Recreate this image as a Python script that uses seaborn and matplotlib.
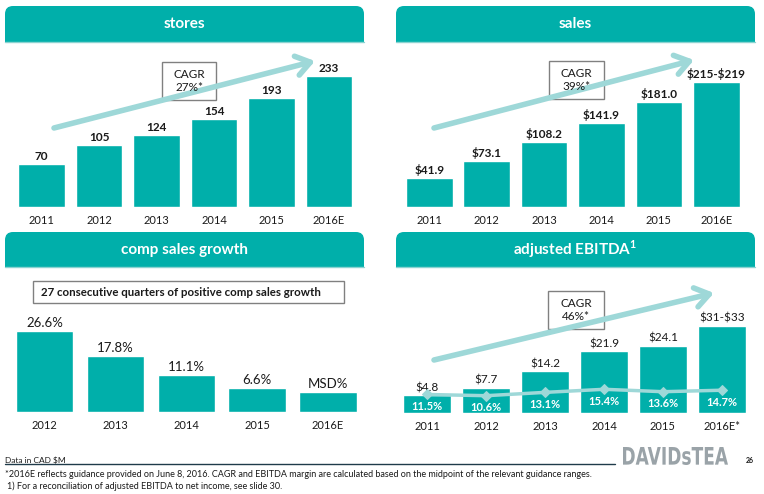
import numpy as np
import pandas as pd
import seaborn as sns
import matplotlib.pyplot as plt
from matplotlib.patches import FancyBboxPatch, Rectangle, PathPatch
from matplotlib.textpath import TextPath
from matplotlib.font_manager import FontProperties
from matplotlib.transforms import Affine2D

# Data
store_years = ['2011', '2012', '2013', '2014', '2015', '2016E']
store_counts = [70, 105, 124, 154, 193, 233]
store_labels = ['70', '105', '124', '154', '193', '233']

sales_years = ['2011', '2012', '2013', '2014', '2015', '2016E']
sales_values = [41.9, 73.1, 108.2, 141.9, 181.0, 217.0]
sales_labels = ['$41.9', '$73.1', '$108.2', '$141.9', '$181.0', '$215-$219']

comp_years = ['2012', '2013', '2014', '2015', '2016E']
comp_growth = [26.6, 17.8, 11.1, 6.6, 5.2]
comp_labels = ['26.6%', '17.8%', '11.1%', '6.6%', 'MSD%']

ebitda_years = ['2011', '2012', '2013', '2014', '2015', '2016E*']
ebitda_values = [4.8, 7.7, 14.2, 21.9, 24.1, 32.0]
ebitda_labels = ['$4.8', '$7.7', '$14.2', '$21.9', '$24.1', '$31-$33']
ebitda_margin = [11.5, 10.6, 13.1, 15.4, 13.6, 14.7]

TEAL = '#00AFAA'
LIGHT = '#9ED8D8'
DARK = '#1a1a1a'
W, H = 764, 494

sns.set_style('white')
plt.rcParams['font.family'] = ['Lato', 'DejaVu Sans']
plt.rcParams['text.parse_math'] = False

fig = plt.figure(figsize=(W / 100, H / 100), dpi=100)


def bar_panel(years, values, labels, c0, step, top, base, ylim, bold, lsize):
    n = len(years)
    x0 = c0 - 0.62 * step
    x1 = c0 + (n - 1 + 0.62) * step
    ax = fig.add_axes([x0 / W, 1 - base / H, (x1 - x0) / W, (base - top) / H])
    df = pd.DataFrame({'year': years, 'value': values})
    sns.barplot(data=df, x='year', y='value', color=TEAL, width=0.81,
                saturation=1, ax=ax)
    # value axis starts a little below zero, bars rise from the axis floor
    for p in ax.patches:
        h = p.get_height()
        p.set_y(ylim[0])
        p.set_height(h - ylim[0])
    ax.set_xlim(-0.62, n - 1 + 0.62)
    ax.set_ylim(*ylim)
    ax.set_xlabel('')
    ax.set_ylabel('')
    ax.set_yticks([])
    ax.tick_params(axis='x', length=0, pad=6, labelsize=8, labelcolor=DARK)
    sns.despine(ax=ax, left=True, bottom=True)
    ax.patch.set_alpha(0)
    for i, (v, lab) in enumerate(zip(values, labels)):
        ax.annotate(lab, xy=(i, v), xytext=(0, 2), textcoords='offset pixels',
                    ha='center', va='bottom', fontsize=lsize, color=DARK,
                    fontweight='bold' if bold else 'normal')
    return ax


bar_panel(store_years, store_counts, store_labels, 41.5, 57.5, 42, 207, (-9.6, 296),
          True, 8.5)
bar_panel(sales_years, sales_values, sales_labels, 429.3, 57.4, 42, 207, (-11, 290),
          True, 8.5)
bar_panel(comp_years, comp_growth, comp_labels, 44.7, 70.8, 267, 412, (-1.82, 49.1),
          False, 9.5)
ax_e = bar_panel(ebitda_years, ebitda_values, ebitda_labels, 427.3, 58.9, 267, 412.7,
                 (-2.14, 55.0), False, 8.5)

# EBITDA margin line on a twin axis
ax_m = ax_e.twinx()
sns.lineplot(x=np.arange(len(ebitda_margin)), y=ebitda_margin, ax=ax_m, color=LIGHT,
             lw=2.5, marker='D', markersize=5, markeredgecolor=LIGHT)
ax_m.set_ylim(-2.15, 107.1)
ax_m.set_yticks([])
sns.despine(ax=ax_m, left=True, bottom=True, right=True)
for i, m in enumerate(ebitda_margin):
    ax_m.annotate(f'{m:.1f}%', xy=(i, m), xytext=(0, -12), textcoords='offset pixels',
                  ha='center', va='center', fontsize=8, color='white', fontweight='bold')

# Overlay in pixel coordinates for headers, boxes, arrows and footer
ov = fig.add_axes([0, 0, 1, 1], zorder=10)
ov.set_xlim(0, W)
ov.set_ylim(H, 0)
ov.axis('off')
ov.patch.set_alpha(0)


def header(x0, x1, y0, y1, title):
    ov.add_patch(FancyBboxPatch((x0, y0), x1 - x0, y1 - y0,
                                boxstyle='round,pad=0,rounding_size=8',
                                fc=TEAL, ec='none'))
    ov.add_patch(Rectangle((x0, (y0 + y1) / 2), x1 - x0, (y1 - y0) / 2, fc=TEAL, ec='none'))
    ov.plot([x0, x1], [y1, y1], color='#8AD3D1', lw=1)
    ov.text((x0 + x1) / 2, (y0 + y1) / 2, title, ha='center', va='center',
            fontsize=11, fontweight='bold', color='white', parse_math=True)


header(5, 364, 6, 42, 'stores')
header(396, 755, 6, 42, 'sales')
header(5, 364, 232, 267, 'comp sales growth')
header(396, 755, 232, 267, 'adjusted EBITDA$^\\mathregular{1}$')


def cagr(start, end, box, text):
    ov.annotate('', xy=end, xytext=start,
                arrowprops=dict(arrowstyle='->,head_length=0.5,head_width=0.35',
                                color=LIGHT, lw=4, mutation_scale=20,
                                shrinkA=0, shrinkB=0))
    bx0, by0, bx1, by1 = box
    ov.add_patch(Rectangle((bx0, by0), bx1 - bx0, by1 - by0, fc='white', ec='#808080', lw=1))
    ov.text((bx0 + bx1) / 2, (by0 + by1) / 2, text, ha='center', va='center',
            fontsize=8.5, color=DARK, linespacing=1.3)


cagr((54, 128), (315, 61), (162, 62, 216, 100), 'CAGR\n27%*')
cagr((434, 128), (694, 60), (549, 61, 604, 99), 'CAGR\n39%*')
cagr((434, 360), (714, 293), (548, 291, 604, 329), 'CAGR\n46%*')

ov.add_patch(Rectangle((33, 281), 311, 22, fc='white', ec='#808080', lw=1))
ov.text(41, 292, '27 consecutive quarters of positive comp sales growth', ha='left',
        va='center', fontsize=8.3, fontweight='bold', color=DARK)

# Footer
ov.plot([5, 615], [464, 464], color='#1f3b4a', lw=1)
ov.text(5, 460, 'Data in CAD $M', fontsize=6, color=DARK, va='center')
ov.text(5, 474, '*2016E reflects guidance provided on June 8, 2016. CAGR and EBITDA margin '
        'are calculated based on the midpoint of the relevant guidance ranges.',
        fontsize=6.5, color=DARK, va='center')
ov.text(7, 486, '1) For a reconciliation of adjusted EBITDA to net income, see slide 30.',
        fontsize=6.5, color=DARK, va='center')

# Condensed logo wordmark
tp = TextPath((0, 0), 'DAVIDsTEA', size=1,
              prop=FontProperties(family='DejaVu Sans', weight='bold'))
ext = tp.get_extents()
sx = 105 / ext.width
sy = 18 / ext.height
logo_tr = Affine2D().translate(-ext.x0, -ext.y0).scale(sx, -sy).translate(623, 465)
ov.add_patch(PathPatch(tp, transform=logo_tr + ov.transData, fc='#9aa3a8', ec='none'))
ov.text(750, 460, '26', ha='center', va='center', fontsize=5, fontweight='bold', color=DARK)

fig.savefig('out.png', dpi=100)
